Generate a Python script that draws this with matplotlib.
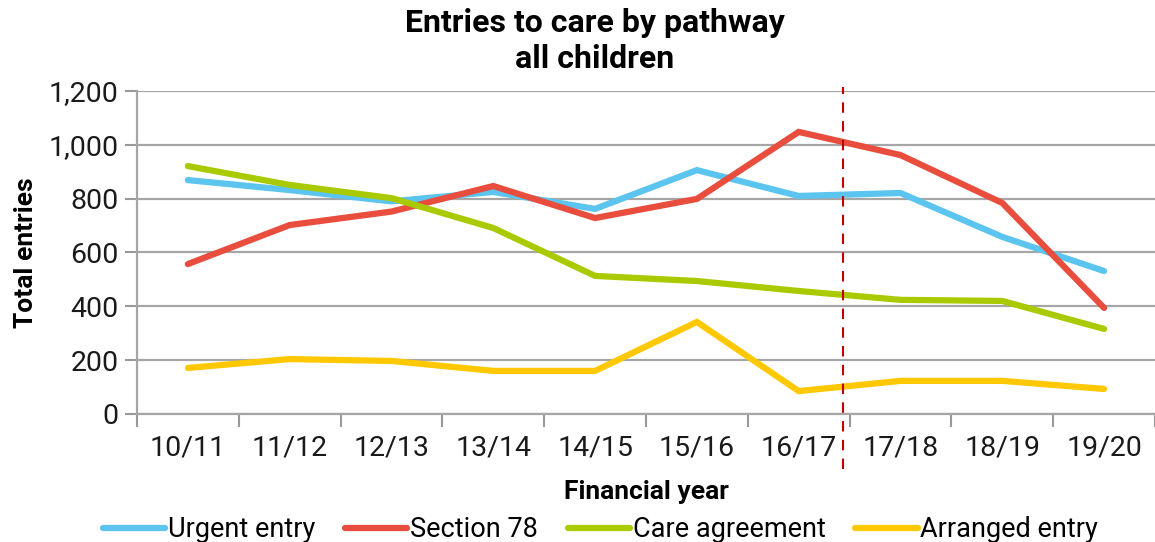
import matplotlib.pyplot as plt
import numpy as np

plt.rcParams['font.family'] = ['Roboto', 'DejaVu Sans']

years = ['10/11', '11/12', '12/13', '13/14', '14/15', '15/16', '16/17', '17/18', '18/19', '19/20']
urgent = [869, 832, 790, 825, 762, 906, 810, 821, 658, 531]
section78 = [557, 702, 752, 847, 728, 799, 1048, 962, 784, 394]
care_agreement = [921, 851, 802, 691, 513, 494, 457, 424, 420, 316]
arranged = [171, 204, 197, 160, 160, 342, 85, 123, 123, 93]
cutoff = 6.44  # dashed marker between 16/17 and 17/18

series = [
    ('Urgent entry', urgent, '#5BC4EF'),
    ('Section 78', section78, '#E84D3E'),
    ('Care agreement', care_agreement, '#AACA00'),
    ('Arranged entry', arranged, '#FFC800'),
]

fig = plt.figure(figsize=(11.55, 5.42), dpi=100)
ax = fig.add_axes([0.1186, 0.2362, 0.8814, 0.5959])

x = np.arange(len(years))
for name, vals, col in series:
    ax.plot(x, vals, color=col, lw=4.5, label=name, solid_capstyle='round',
            solid_joinstyle='miter', zorder=3)

ax.set_xlim(-0.5, len(years) - 0.5)
ax.set_ylim(0, 1200)
ax.set_yticks(np.arange(0, 1201, 200))
ax.set_yticklabels([f'{v:,}' for v in range(0, 1201, 200)])
ax.set_xticks(x)
ax.set_xticklabels(years)
ax.set_xticks(np.arange(-0.5, len(years)), minor=True)
ax.tick_params(axis='x', which='major', length=0, pad=15, labelsize=20.5, colors='#1a1a1a')
ax.tick_params(axis='x', which='minor', length=9, width=1.5, color='#999999')
ax.tick_params(axis='y', length=9, width=1.5, color='#999999', labelsize=20.5,
               labelcolor='#1a1a1a', pad=4)
ax.grid(axis='y', color='#A6A6A6', lw=1.6, zorder=1)
for s in ['top', 'right']:
    ax.spines[s].set_visible(False)
ax.spines['left'].set_color('#A6A6A6')
ax.spines['bottom'].set_color('#A6A6A6')
ax.spines['left'].set_linewidth(1.6)
ax.spines['bottom'].set_linewidth(1.6)

ax.axvline(cutoff, ymin=-0.17, ymax=1.013, color='#C00000', lw=1.5,
           ls=(0, (5, 4)), clip_on=False, zorder=4)

ax.set_ylabel('Total entries', fontsize=19, fontweight='bold', labelpad=8)
ax.set_xlabel('Financial year', fontsize=19, fontweight='bold', labelpad=13)
fig.text(0.515, 0.985, 'Entries to care by pathway\nall children', ha='center', va='top',
         fontsize=23, fontweight='bold', linespacing=1.25)

fig.legend(loc='lower center', bbox_to_anchor=(0.52, -0.047), ncol=4, frameon=False,
           fontsize=19.5, handlelength=2.3, handletextpad=0.1, columnspacing=1.1)

fig.savefig('out.png', dpi=100)
